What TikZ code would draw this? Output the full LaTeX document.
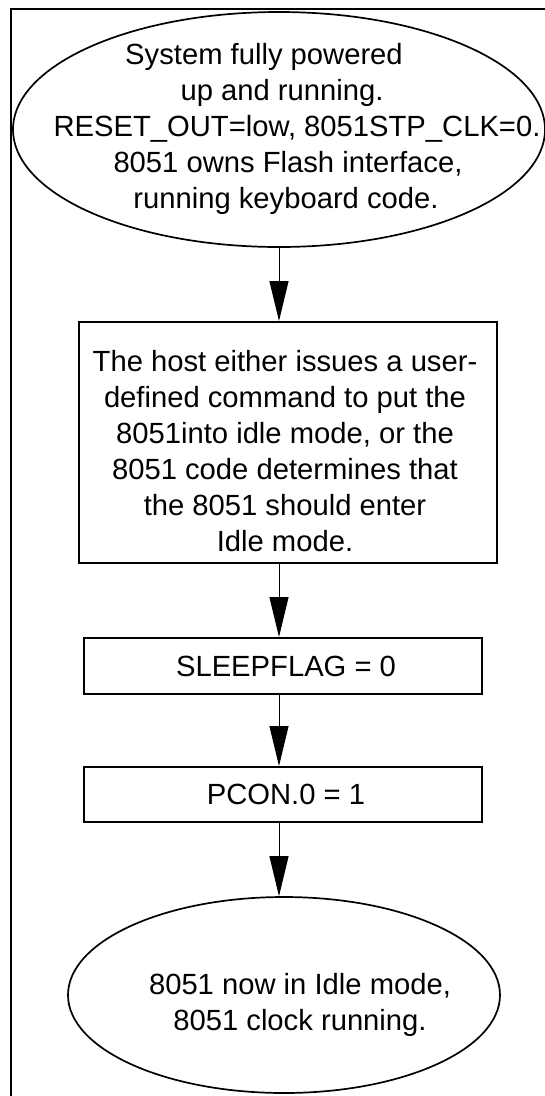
\documentclass[tikz,border=0pt]{standalone}
\usepackage{fontspec}
\setmainfont{Liberation Sans}
\usetikzlibrary{shapes.geometric,arrows.meta}

\tikzset{
  stepbox/.style={draw, line width=2pt, rectangle, inner sep=0pt},
  endpoint/.style={draw, line width=1.7pt, ellipse, inner sep=0pt},
  txt/.style={align=center, inner sep=0pt, font=\fontsize{29.2}{36}\selectfont},
  flow/.style={line width=1pt, -{Triangle[length=40pt,width=19pt]}},
}

\begin{document}
\begin{tikzpicture}[x=1pt,y=-1pt]
	\clip (0,0) rectangle (545,1096);

	% Outer frame (only top and left edges show)
	\draw[line width=2pt] (570,9) -- (11,9) -- (11,1120);

	% Start state
	\node[endpoint, minimum width=532pt, minimum height=235pt] (start) at (279,129.5) {};
	\node[txt] (starttext) at (282,129) {System fully powered\hspace*{36pt}\\
		up and running.\hspace*{46pt}\\
		\hspace*{30pt}RESET\_OUT=low, 8051STP\_CLK=0.\\
		\hspace*{12pt}8051 owns Flash interface,\\
		\hspace*{8pt}running keyboard code.};

	% Decision to go idle
	\node[stepbox, minimum width=418pt, minimum height=241pt] (host) at (288,442.5) {};
	\node[txt] (hosttext) at (285,451) {The host either issues a user-\\
		defined command to put the\\
		8051into idle mode, or the\\
		8051 code determines that\\
		the 8051 should enter\\
		Idle mode.};

	% Register writes
	\node[stepbox, minimum width=398pt, minimum height=56pt, txt] (sleep) at (283,666) {\hspace*{6pt}SLEEPFLAG = 0};
	\node[stepbox, minimum width=398pt, minimum height=55pt, txt] (pcon) at (283,794.5) {\hspace*{6pt}PCON.0 = 1};

	% End state
	\node[endpoint, minimum width=432pt, minimum height=196pt] (idle) at (284,995) {};
	\node[txt] (idletext) at (300,1005) {8051 now in Idle mode,\\
		8051 clock running.};

	% Connectors
	\draw[flow] (start.south) -- (start.south |- host.north);
	\draw[flow] (start.south |- host.south) -- (start.south |- sleep.north);
	\draw[flow] (start.south |- sleep.south) -- (start.south |- pcon.north);
	\draw[flow] (start.south |- pcon.south) -- (start.south |- idle.north);
\end{tikzpicture}
\end{document}
